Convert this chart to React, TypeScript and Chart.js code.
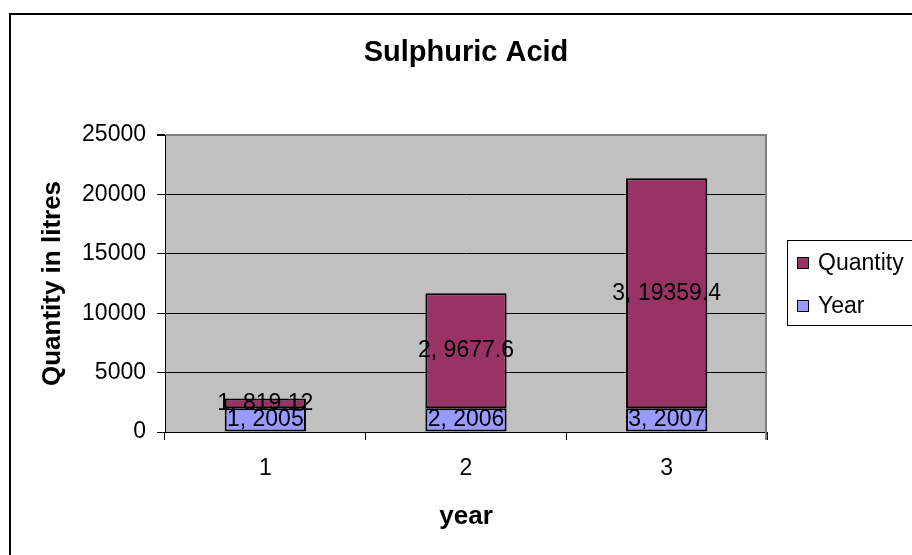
import React, { useEffect, useRef } from "react";
import { Chart, registerables } from "chart.js";

Chart.register(...registerables);

const categories = ["1", "2", "3"];
const yearValues = [2005, 2006, 2007];
const quantityValues = [819.12, 9677.6, 19359.4];
const yTicks = [0, 5000, 10000, 15000, 20000, 25000];
const yearName = "Year";
const quantityName = "Quantity";
const chartTitle = "Sulphuric Acid";
const xTitle = "year";
const yTitle = "Quantity in litres";

const FONT = "'Liberation Sans', Arial, Helvetica, sans-serif";
const YEAR_COLOR = "#9999FF";
const QTY_COLOR = "#993366";
const PLOT_BG = "#C0C0C0";

const decorPlugin = {
  id: "decor",
  beforeDraw(chart: any) {
    const { ctx, chartArea } = chart;
    ctx.save();
    ctx.fillStyle = "#ffffff";
    ctx.fillRect(0, 0, chart.width, chart.height);
    ctx.fillStyle = PLOT_BG;
    ctx.fillRect(chartArea.left, chartArea.top, chartArea.right - chartArea.left, chartArea.bottom - chartArea.top);
    ctx.restore();
  },
  beforeDatasetsDraw(chart: any) {
    const { ctx, chartArea } = chart;
    ctx.save();
    ctx.strokeStyle = "#808080";
    ctx.lineWidth = 2;
    ctx.beginPath();
    ctx.moveTo(chartArea.right - 1, chartArea.top);
    ctx.lineTo(chartArea.right - 1, chartArea.bottom + 8);
    ctx.stroke();
    ctx.restore();
  },
  afterDatasetsDraw(chart: any) {
    const { ctx } = chart;
    ctx.save();
    ctx.font = `23px ${FONT}`;
    ctx.fillStyle = "#000";
    ctx.textAlign = "center";
    ctx.textBaseline = "middle";
    chart.data.datasets.forEach((ds: any, di: number) => {
      const meta = chart.getDatasetMeta(di);
      meta.data.forEach((el: any, i: number) => {
        const text = `${chart.data.labels[i]}, ${ds.data[i]}`;
        ctx.fillText(text, el.x, (el.y + el.base) / 2);
      });
    });
    ctx.restore();
  },
  afterDraw(chart: any) {
    const { ctx } = chart;
    ctx.save();
    // legend box
    ctx.fillStyle = "#fff";
    ctx.strokeStyle = "#000";
    ctx.lineWidth = 1;
    ctx.fillRect(787.5, 240.5, 140, 85);
    ctx.strokeRect(787.5, 240.5, 140, 85);
    const items = chart.data.datasets.slice().reverse();
    const centers = [263, 306];
    ctx.font = `23px ${FONT}`;
    ctx.textAlign = "left";
    ctx.textBaseline = "middle";
    items.forEach((ds: any, i: number) => {
      const cy = centers[i];
      ctx.fillStyle = ds.backgroundColor;
      ctx.fillRect(797.5, cy - 5.5, 11, 11);
      ctx.strokeStyle = "#000";
      ctx.strokeRect(797.5, cy - 5.5, 11, 11);
      ctx.fillStyle = "#000";
      ctx.fillText(ds.label, 818, cy + 1);
    });
    // outer frame
    ctx.strokeStyle = "#000";
    ctx.lineWidth = 2;
    ctx.beginPath();
    ctx.moveTo(10, chart.height + 5);
    ctx.lineTo(10, 14);
    ctx.lineTo(chart.width + 5, 14);
    ctx.stroke();
    ctx.restore();
  },
};

export default function App() {
  const canvasRef = useRef<HTMLCanvasElement | null>(null);

  useEffect(() => {
    if (!canvasRef.current) return;
    const chart = new Chart(canvasRef.current, {
      type: "bar",
      data: {
        labels: categories,
        datasets: [
          {
            label: yearName,
            data: yearValues,
            backgroundColor: YEAR_COLOR,
            borderColor: "#000",
            borderWidth: 2,
            borderSkipped: false,
            barPercentage: 0.405,
            categoryPercentage: 1,
          },
          {
            label: quantityName,
            data: quantityValues,
            backgroundColor: QTY_COLOR,
            borderColor: "#000",
            borderWidth: 2,
            borderSkipped: false,
            barPercentage: 0.405,
            categoryPercentage: 1,
          },
        ],
      },
      options: {
        animation: false,
        responsive: false,
        devicePixelRatio: 1,
        layout: { padding: { left: 37, right: 145, top: 0, bottom: 23 } },
        plugins: {
          legend: { display: false },
          tooltip: { enabled: false },
          title: {
            display: true,
            text: chartTitle,
            fullSize: false,
            color: "#000",
            font: { family: FONT, size: 29, weight: "bold", lineHeight: 1.2 },
            padding: { top: 36, bottom: 64.2 },
          },
        },
        scales: {
          x: {
            stacked: true,
            offset: true,
            grid: {
              display: true,
              offset: true,
              drawOnChartArea: false,
              drawTicks: true,
              tickLength: 8,
              color: "#000",
              tickColor: "#000",
            },
            border: { display: true, color: "#000", width: 1 },
            ticks: {
              color: "#000",
              padding: 15,
              font: { family: FONT, size: 23, lineHeight: 1.2 },
            },
            title: {
              display: true,
              text: xTitle,
              color: "#000",
              padding: 0,
              font: { family: FONT, size: 26, weight: "bold", lineHeight: 1.2 },
            },
            afterFit(scale: any) {
              scale.height = 100;
            },
          },
          y: {
            stacked: true,
            min: 0,
            max: 25000,
            afterBuildTicks(scale: any) {
              scale.ticks = yTicks.map((v) => ({ value: v }));
            },
            grid: {
              drawTicks: true,
              tickLength: 8,
              color: (c: any) => (c.tick && c.tick.value === 25000 ? "#808080" : "#000"),
              lineWidth: (c: any) => (c.tick && c.tick.value === 25000 ? 2 : 1),
              tickColor: "#000",
            },
            border: { display: true, color: "#000", width: 1 },
            ticks: {
              color: "#000",
              padding: 11,
              font: { family: FONT, size: 23, lineHeight: 1.2 },
              callback: (v: any) => String(v),
            },
            title: {
              display: true,
              text: yTitle,
              color: "#000",
              padding: 0,
              font: { family: FONT, size: 26, weight: "bold", lineHeight: 1.2 },
            },
            afterFit(scale: any) {
              scale.width = 128;
            },
          },
        },
      },
      plugins: [decorPlugin],
    } as any);
    return () => chart.destroy();
  }, []);

  return (
    <div style={{ position: "absolute", left: 0, top: 0, width: 912, height: 555, background: "#fff" }}>
      <canvas ref={canvasRef} width={912} height={555} style={{ display: "block" }} />
    </div>
  );
}
